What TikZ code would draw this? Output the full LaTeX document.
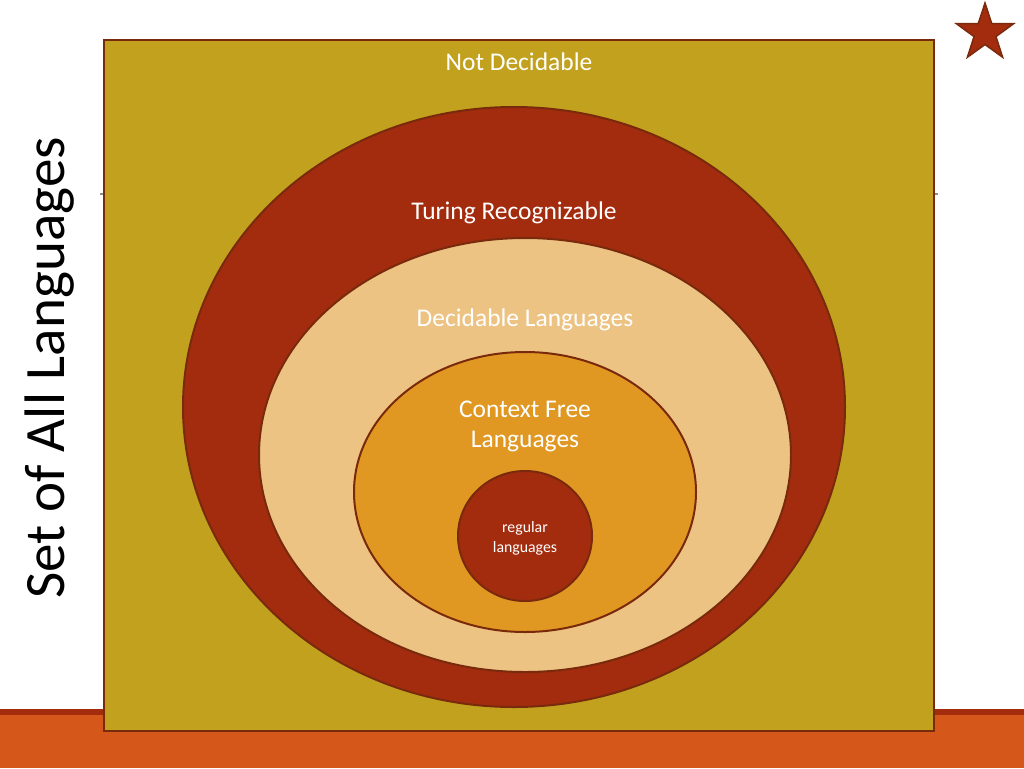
\documentclass[tikz,border=0pt]{standalone}
\usepackage{fontspec}
\setmainfont{Carlito}
\usetikzlibrary{shapes.geometric}
\definecolor{brickred}{HTML}{A32C0E}
\definecolor{olivegold}{HTML}{C2A11E}
\definecolor{peach}{HTML}{ECC382}
\definecolor{amber}{HTML}{E09823}
\definecolor{rust}{HTML}{D5581A}
\definecolor{edgebrown}{HTML}{7A2A0C}
\tikzset{
  setlabel/.style={text=white, align=center, font=\fontsize{14.5}{18}\selectfont},
  region/.style={draw=edgebrown, line width=0.4mm}
}

\begin{document}
\begin{tikzpicture}[x=0.02cm, y=-0.02cm]
			%%%%% START %%%%%
			\useasboundingbox (0, 0) rectangle (1024, 768);
			
			\draw[line width=0.3mm, color=black!45] (100, 194) -- (938, 194);
			\fill[rust] (0, 709) rectangle (1024, 768);
			\fill[brickred] (0, 709) rectangle (1024, 715);
			
			\draw[region, fill=olivegold] (104, 40) rectangle (934, 731);
			
			\draw[region, fill=brickred] (514, 407) ellipse (331 and 300);
			\draw[region, fill=peach] (525, 455) ellipse (266 and 217);
			\draw[region, fill=amber] (525, 492) ellipse (171 and 140);
			\draw[region, fill=brickred] (525, 536) ellipse (67 and 65);
			
			\node[star, star points=5, star point ratio=2.6, minimum size=1.2cm, inner sep=0pt,
			  fill=brickred, draw=edgebrown, line width=0.3mm] (mark) at (985, 33) {};
			
			\node[rotate=90, font=\fontsize{32.5}{38}\selectfont] (alllang) at (50, 368) {Set of All Languages};
			
			\node[setlabel] (notdec) at (519, 62) {Not Decidable};
			\node[setlabel] (turing) at (514, 213) {Turing Recognizable};
			\node[setlabel] (decid) at (525, 320) {Decidable Languages};
			\node[setlabel, font=\fontsize{14.5}{17}\selectfont] (cfl) at (525, 426) {Context Free\\Languages};
			\node[setlabel, font=\fontsize{9}{11.5}\selectfont] (reg) at (525, 538) {regular\\languages};
			
			%%%%% END %%%%%
		\end{tikzpicture}
\end{document}
